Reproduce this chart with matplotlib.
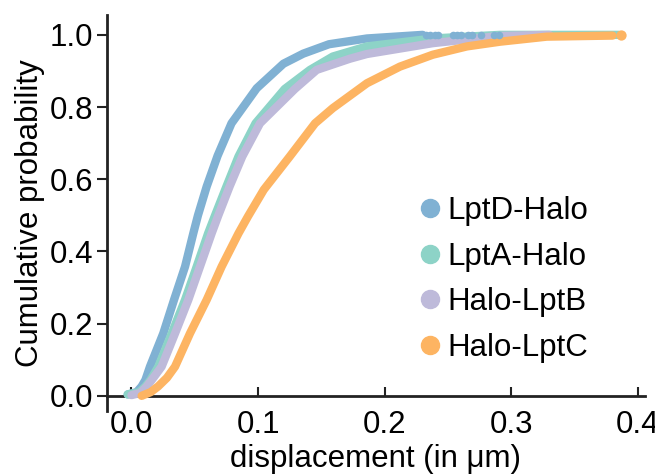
import matplotlib
matplotlib.use("Agg")
import matplotlib.pyplot as plt
from matplotlib.lines import Line2D

plt.rcParams["font.family"] = ["Liberation Sans", "DejaVu Sans"]

# values (cumulative distributions)
LABELS = ["LptD-Halo", "LptA-Halo", "Halo-LptB", "Halo-LptC"]
COLORS = ["#80b1d3", "#8dd3c7", "#bebada", "#fdb462"]

LPTD_X = [-0.003, 0.004, 0.008, 0.011, 0.0146, 0.0251, 0.0336, 0.0423, 0.0488, 0.0525,
          0.0594, 0.068, 0.079, 0.0989, 0.120, 0.1357, 0.156, 0.186, 0.230]
LPTD_Y = [0.004, 0.01, 0.026, 0.044, 0.081, 0.173, 0.266, 0.358, 0.450, 0.50,
          0.580, 0.665, 0.755, 0.852, 0.920, 0.948, 0.974, 0.99, 1.0]
LPTD_TAIL_X = [0.233, 0.236, 0.240, 0.242, 0.254, 0.257, 0.260, 0.266, 0.269, 0.276, 0.286, 0.290]

LPTA_X = [-0.003, 0.006, 0.011, 0.015, 0.0212, 0.0318, 0.0423, 0.0515, 0.0605, 0.066,
          0.075, 0.0845, 0.098, 0.121, 0.141, 0.159, 0.186, 0.238, 0.291, 0.385]
LPTA_Y = [0.004, 0.01, 0.026, 0.044, 0.081, 0.173, 0.266, 0.358, 0.450, 0.50,
          0.580, 0.663, 0.755, 0.850, 0.903, 0.940, 0.968, 0.99, 1.0, 1.0]

LPTB_X = [0.0, 0.007, 0.012, 0.016, 0.0238, 0.0344, 0.0449, 0.0541, 0.0633, 0.0686,
          0.0775, 0.0875, 0.1015, 0.129, 0.1463, 0.159, 0.1726, 0.186, 0.238, 0.291, 0.33]
LPTB_Y = [0.002, 0.008, 0.026, 0.044, 0.081, 0.173, 0.266, 0.358, 0.450, 0.50,
          0.580, 0.663, 0.755, 0.850, 0.903, 0.918, 0.934, 0.947, 0.977, 0.997, 1.0]

LPTC_X = [0.008, 0.015, 0.021, 0.028, 0.0344, 0.0462, 0.0594, 0.0712, 0.0845, 0.092,
          0.1045, 0.125, 0.145, 0.159, 0.186, 0.212, 0.238, 0.265, 0.291, 0.328, 0.380]
LPTC_Y = [0.0, 0.01, 0.026, 0.05, 0.081, 0.173, 0.266, 0.358, 0.450, 0.497,
          0.571, 0.663, 0.755, 0.797, 0.866, 0.912, 0.945, 0.968, 0.981, 0.995, 0.998]
LPTC_TAIL_X = [0.387]

X_TICKS = [0.0, 0.1, 0.2, 0.3, 0.4]
Y_TICKS = [0.0, 0.2, 0.4, 0.6, 0.8, 1.0]

series = [(LPTD_X, LPTD_Y), (LPTA_X, LPTA_Y), (LPTB_X, LPTB_Y), (LPTC_X, LPTC_Y)]
FS = 22.5

fig = plt.figure(figsize=(6.55, 4.75), dpi=100)
ax = fig.add_axes([107 / 655, 1 - 411 / 475, 538 / 655, 396 / 475])

for (xs, ys), color in zip(series, COLORS):
    ax.plot(xs, ys, color=color, linewidth=6, solid_capstyle="round",
            solid_joinstyle="round", zorder=3)

ax.scatter(LPTD_TAIL_X, [1.0] * len(LPTD_TAIL_X), s=30, color=COLORS[0],
           linewidths=0, zorder=3)
ax.scatter(LPTC_TAIL_X, [1.0] * len(LPTC_TAIL_X), s=55, color=COLORS[3],
           linewidths=0, zorder=4)

ax.set_xlim(-0.01935, 0.4056)
ax.set_ylim(-0.042, 1.055)
ax.set_xticks(X_TICKS)
ax.set_yticks(Y_TICKS)
ax.set_xticklabels([f"{v:.1f}" for v in X_TICKS])
ax.set_yticklabels([f"{v:.1f}" for v in Y_TICKS])

for side in ["top", "right"]:
    ax.spines[side].set_visible(False)
ax.spines["bottom"].set_position(("data", 0))
for side in ["left", "bottom"]:
    ax.spines[side].set_linewidth(2.0)
    ax.spines[side].set_color("#222222")

ax.tick_params(axis="y", direction="out", length=7, width=1.5, pad=3,
               labelsize=FS, color="#222222")
ax.tick_params(axis="x", direction="in", length=6.5, width=1.5, pad=10,
               labelsize=FS, color="#222222")

ax.set_xlabel("displacement (in μm)", fontsize=FS, labelpad=3)
ax.set_ylabel("Cumulative probability", fontsize=FS, labelpad=3)

handles = [Line2D([], [], ls="none", marker="o", ms=13, color=c) for c in COLORS]
ax.legend(handles, LABELS, loc="upper left", bbox_to_anchor=(408 / 655, 1 - 183.5 / 475),
          bbox_transform=fig.transFigure, frameon=False, fontsize=FS,
          handlelength=0.6, handletextpad=0.25, labelspacing=0.5, borderpad=0.4,
          borderaxespad=0)

fig.savefig("out.png", dpi=100)
